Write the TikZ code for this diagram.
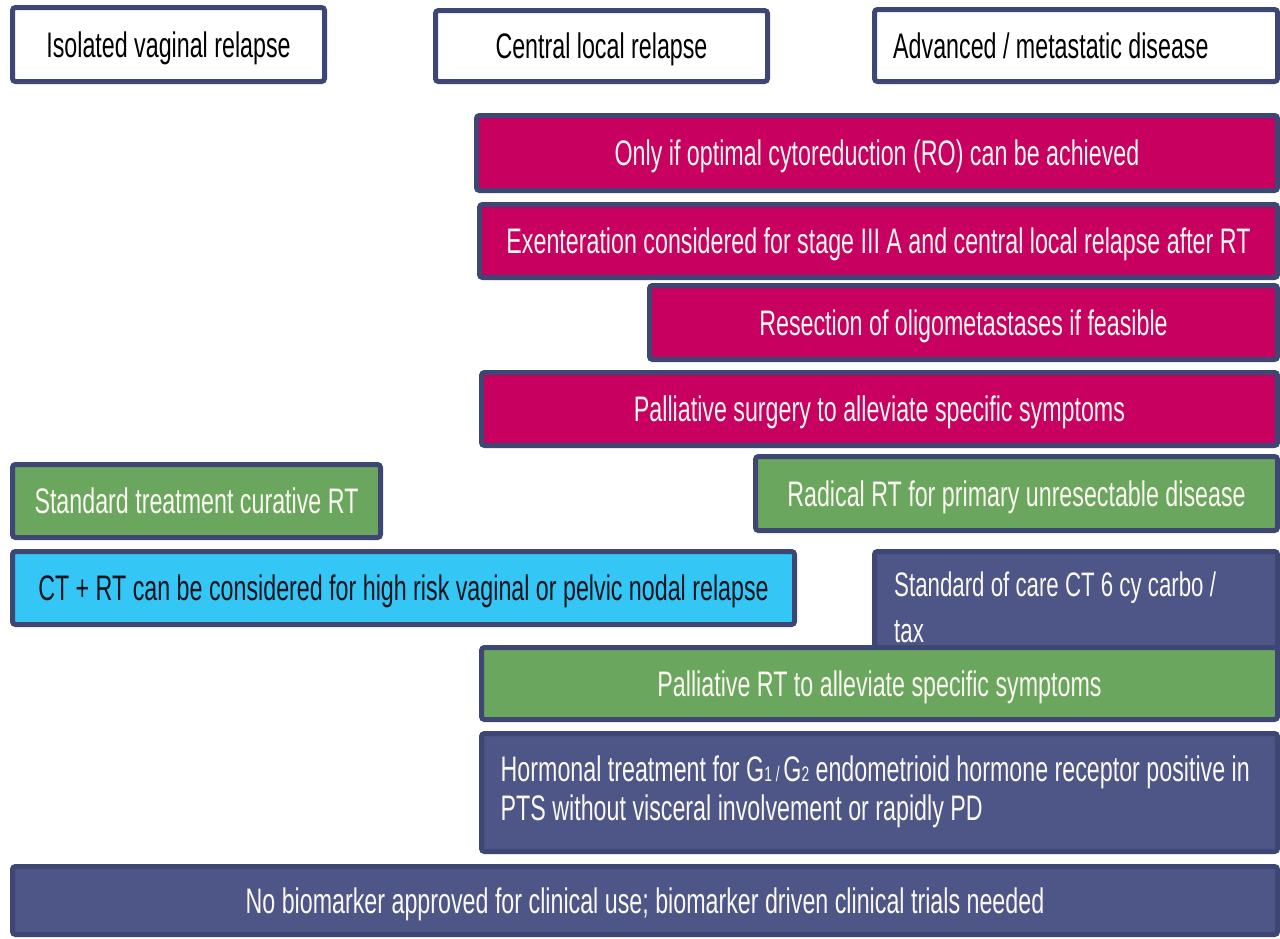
\documentclass[tikz,border=0pt]{standalone}
\usepackage{fontspec}
\setmainfont[FakeStretch=0.655]{Liberation Sans}
\definecolor{bord}{RGB}{62,70,115}
\definecolor{mag}{RGB}{200,0,95}
\definecolor{grn}{RGB}{106,166,94}
\definecolor{cyn}{RGB}{52,198,245}
\definecolor{slt}{RGB}{78,86,135}
\definecolor{ltxt}{RGB}{250,248,240}
\definecolor{dtxt}{RGB}{20,20,30}
\newcommand{\smsub}[1]{{\fontsize{21}{21}\selectfont #1}}
\begin{document}
\begin{tikzpicture}[x=1pt,y=-1pt,
  box/.style={draw=bord, line width=5pt, rounded corners=3pt, inner sep=0pt,
    font=\fontsize{35.5}{40}\selectfont, text height=25.4pt, text depth=0pt},
  hdr/.style={box, fill=white, text=black},
  magbox/.style={box, fill=mag, text=ltxt},
  grnbox/.style={box, fill=grn, text=ltxt},
  cynbox/.style={box, fill=cyn, text=dtxt},
  sltbox/.style={box, fill=slt, text=ltxt},
  mltext/.style={anchor=north west, inner sep=0pt, align=left, text=ltxt}
]
\useasboundingbox (0,0) rectangle (1280,938);
\clip (0,0) rectangle (1280,938);
\fill[white] (0,0) rectangle (1280,938);

% headers
\node[hdr, minimum width=312pt, minimum height=74pt] (h1) at (168.5,44.5) {Isolated vaginal relapse};
\node[hdr, minimum width=332pt, minimum height=71pt] (h2) at (601.5,46) {Central local relapse};
\node[hdr, minimum width=403pt, minimum height=72pt] (h3) at (1076,45.5) {};
\node[anchor=west, inner sep=0pt, font=\fontsize{35.5}{40}\selectfont, text height=25.4pt, text depth=0pt, text=black] (h3t) at (893,45.5) {Advanced / metastatic disease};

% surgery (magenta)
\node[magbox, minimum width=801pt, minimum height=75pt] (m1) at (877,153) {Only if optimal cytoreduction (RO) can be achieved};
\node[magbox, minimum width=798pt, minimum height=73pt] (m2) at (878.5,241) {Exenteration considered for stage III A and central local relapse after RT};
\node[magbox, minimum width=628pt, minimum height=74pt] (m3) at (963.5,322.5) {Resection of oligometastases if feasible};
\node[magbox, minimum width=796pt, minimum height=73pt] (m4) at (879.5,409) {Palliative surgery to alleviate specific symptoms};

% radiotherapy (green)
\node[grnbox, minimum width=368pt, minimum height=73pt] (g1) at (196.5,501) {Standard treatment curative RT};
\node[grnbox, minimum width=522pt, minimum height=74pt] (g2) at (1016.5,493.5) {Radical RT for primary unresectable disease};

% CT + RT (cyan)
\node[cynbox, minimum width=782pt, minimum height=73pt] (c1) at (403.5,588) {CT + RT can be considered for high risk vaginal or pelvic nodal relapse};

% standard of care (slate, partly covered)
\node[sltbox, minimum width=403pt, minimum height=111pt] (s1) at (1076,607) {};
\node[mltext, font=\fontsize{34}{46}\selectfont] (s1t) at (894,572) {Standard of care CT 6 cy carbo /\\tax};

% palliative RT (green)
\node[grnbox, minimum width=796pt, minimum height=72pt] (p1) at (879.5,683.5) {Palliative RT to alleviate specific symptoms};

% hormonal (slate)
\node[sltbox, minimum width=796pt, minimum height=118pt] (hm) at (879.5,792.5) {};
\node[mltext, font=\fontsize{35.5}{39}\selectfont] (hmt) at (500.5,756) {Hormonal treatment for G\smsub{1 / }G\smsub{2} endometrioid hormone receptor positive in\\PTS without visceral involvement or rapidly PD};

% biomarker (slate)
\node[sltbox, minimum width=1265pt, minimum height=68pt] (nb) at (645,900.5) {No biomarker approved for clinical use; biomarker driven clinical trials needed};
\end{tikzpicture}
\end{document}
